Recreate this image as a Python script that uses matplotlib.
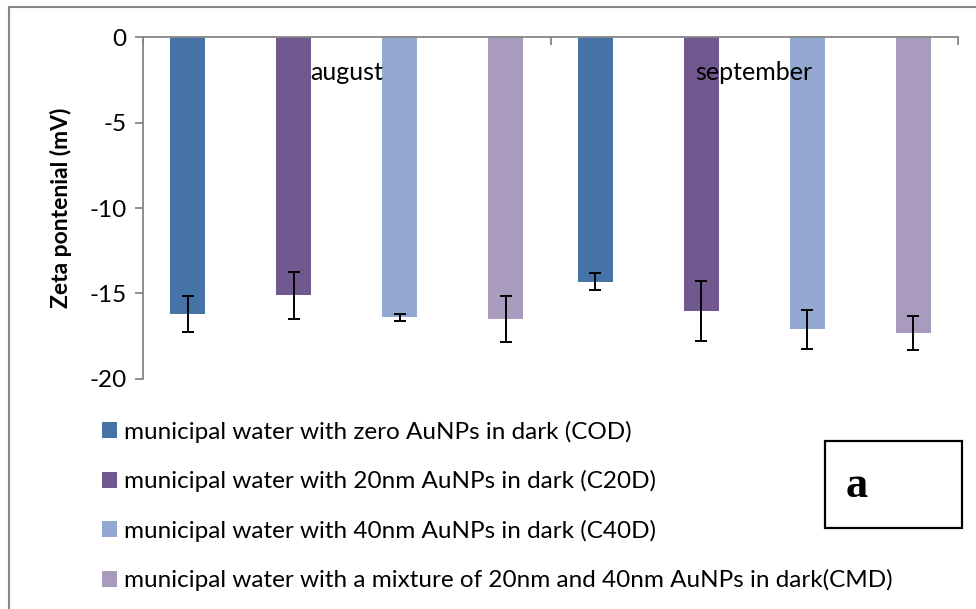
import matplotlib.pyplot as plt
from matplotlib.patches import Rectangle
import numpy as np

months = ["august", "september"]
series = [
    "municipal water with zero AuNPs in dark (COD)",
    "municipal water with 20nm AuNPs in dark (C20D)",
    "municipal water with 40nm AuNPs in dark (C40D)",
    "municipal water with a mixture of 20nm and 40nm AuNPs in dark(CMD)",
]
# zeta potential (mV), one list per series: [august, september]
cod = [-16.2, -14.3]
c20d = [-15.1, -16.0]
c40d = [-16.4, -17.1]
cmd = [-16.5, -17.3]
cod_err = [1.05, 0.47]
c20d_err = [1.37, 1.75]
c40d_err = [0.18, 1.13]
cmd_err = [1.33, 0.98]

values = [cod, c20d, c40d, cmd]
errors = [cod_err, c20d_err, c40d_err, cmd_err]
colors = ["#4573A7", "#71588F", "#94A9D1", "#A99BBE"]

plt.rcParams["font.family"] = ["Lato", "DejaVu Sans"]

fig = plt.figure(figsize=(9.76, 6.09), dpi=100)
ax = fig.add_axes([0.1465, 0.3777, 0.9816 - 0.1465, 0.9392 - 0.3777])

x = np.arange(len(months))
offsets = [-0.39, -0.13, 0.13, 0.39]
width = 0.086
handles = []
for i in range(4):
    h = ax.bar(x + offsets[i], values[i], width, color=colors[i], label=series[i], zorder=2)
    ax.errorbar(x + offsets[i], values[i], yerr=errors[i], fmt="none", ecolor="black",
                elinewidth=1.4, capsize=4.5, capthick=1.4, zorder=3)
    handles.append(h)

ax.set_xlim(-0.5, 1.5)
ax.set_ylim(-20, 0)
ax.set_yticks([0, -5, -10, -15, -20])
ax.set_yticklabels(["0", "-5", "-10", "-15", "-20"], fontsize=17.5)
ax.set_ylabel("Zeta pontenial (mV)", fontsize=16.5, fontweight="bold")
ax.yaxis.set_label_coords(-0.0874, 0.5)

# x axis sits at y = 0 (top of plot), category tick marks pointing down
gray = "#868686"
for s in ["right", "bottom"]:
    ax.spines[s].set_visible(False)
ax.spines["left"].set_color(gray)
ax.spines["top"].set_color(gray)
ax.spines["left"].set_linewidth(1.3)
ax.spines["top"].set_linewidth(1.3)
ax.tick_params(axis="y", colors=gray, labelcolor="black", length=6, width=1.3, pad=6)
ax.xaxis.set_ticks_position("top")
ax.set_xticks([-0.5, 0.5, 1.5])
ax.set_xticklabels([])
ax.tick_params(axis="x", direction="in", colors=gray, length=6, width=1.3)

for i, m in enumerate(months):
    ax.text(x[i], -2.05, m, ha="center", va="center", fontsize=18, zorder=4)

fig.legend(handles=handles, labels=series, loc="upper left",
           bbox_to_anchor=(0.1045, 0.309), frameon=False, fontsize=17.5,
           handlelength=0.62, handleheight=0.62, handletextpad=0.29,
           labelspacing=1.125, borderpad=0, borderaxespad=0)

# panel label box
fig.patches.append(Rectangle((825 / 976, 1 - 528 / 609), 137 / 976, 87 / 609,
                             transform=fig.transFigure, fill=False,
                             edgecolor="black", linewidth=1.6))
fig.text(857 / 976, 1 - 486 / 609, "a", ha="center", va="center",
         fontsize=32, fontweight="bold", family=["Liberation Serif", "DejaVu Serif"])

# outer chart border
fig.patches.append(Rectangle((9 / 976, -0.1), 1.2, 1 - 7 / 609 + 0.1,
                             transform=fig.transFigure, fill=False,
                             edgecolor=gray, linewidth=1.5))

fig.savefig("out.png", dpi=100)
